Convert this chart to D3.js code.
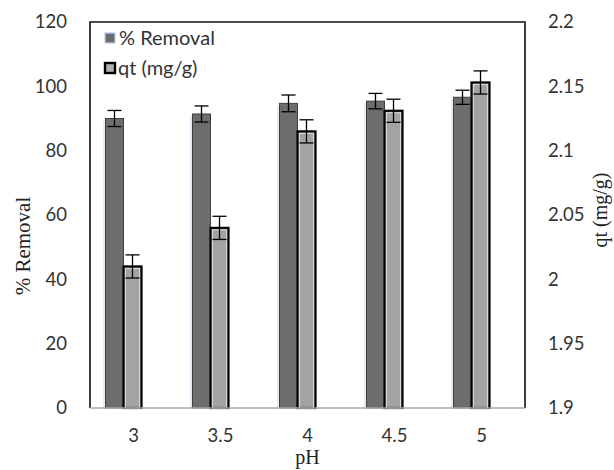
<!DOCTYPE html>
<html><head><meta charset="utf-8">
<script src="https://cdn.jsdelivr.net/npm/d3@7/dist/d3.min.js"></script>
<style>
html,body{margin:0;padding:0;background:#fff;}
svg{display:block;}
</style></head>
<body>
<script>
const categories = ["3", "3.5", "4", "4.5", "5"];
const removal = [90.0, 91.4, 94.7, 95.4, 96.6];
const removalErr = [2.5, 2.5, 2.6, 2.4, 2.2];
const qt = [2.010, 2.040, 2.115, 2.131, 2.153];
const qtErr = [0.009, 0.009, 0.009, 0.009, 0.009];
const leftTicks = [0, 20, 40, 60, 80, 100, 120];
const rightTicks = [1.9, 1.95, 2.0, 2.05, 2.1, 2.15, 2.2];
const seriesNames = ["% Removal", "qt (mg/g)"];

const W = 614, H = 470;
const m = {left: 90, right: 89, top: 22, bottom: 62};
const svg = d3.select("body").append("svg").attr("width", W).attr("height", H);

const x = d3.scaleBand().domain(categories).range([m.left, W - m.right]);
const xs = d3.scaleBand().domain(["removal", "qt"]).range([-28, 8]);
const yL = d3.scaleLinear().domain([0, 120]).range([H - m.bottom, m.top]);
const yR = d3.scaleLinear().domain([1.9, 2.2]).range([H - m.bottom, m.top]);
const cx = c => x(c) + x.bandwidth() / 2;

const sans = "Lato, 'Liberation Sans', sans-serif";
const serif = "'Liberation Serif', 'DejaVu Serif', serif";

// dark bars (% Removal)
const g = svg.append("g");
categories.forEach((c, i) => {
  const bx = cx(c) + xs("removal");
  g.append("line").attr("x1", bx - 1.5).attr("x2", bx - 1.5)
    .attr("y1", yL(removal[i]) + 2).attr("y2", yL(0))
    .attr("stroke", "#cfe0f6").attr("stroke-width", 1.2);
  g.append("rect").attr("x", bx).attr("y", yL(removal[i]))
    .attr("width", xs.bandwidth()).attr("height", yL(0) - yL(removal[i]))
    .attr("fill", "#6d6d6d").attr("stroke", "#3f3f3f").attr("stroke-width", 1);
});
// light bars (qt)
categories.forEach((c, i) => {
  const bx = cx(c) + xs("qt");
  g.append("rect").attr("x", bx).attr("y", yR(qt[i]))
    .attr("width", xs.bandwidth()).attr("height", yR(1.9) - yR(qt[i]))
    .attr("fill", "#a3a3a3").attr("stroke", "#000").attr("stroke-width", 2.2);
  g.append("rect").attr("x", bx + 2).attr("y", yR(qt[i]) + 2)
    .attr("width", xs.bandwidth() - 4).attr("height", yR(1.9) - yR(qt[i]) - 2)
    .attr("fill", "none").attr("stroke", "#e6e6e6").attr("stroke-width", 0.8);
});
// error bars
function errBar(xc, yTop, yBot) {
  const e = svg.append("g").attr("stroke", "#000").attr("stroke-width", 1.3);
  e.append("line").attr("x1", xc).attr("x2", xc).attr("y1", yTop).attr("y2", yBot);
  e.append("line").attr("x1", xc - 7).attr("x2", xc + 7).attr("y1", yTop).attr("y2", yTop);
  e.append("line").attr("x1", xc - 7).attr("x2", xc + 7).attr("y1", yBot).attr("y2", yBot);
}
categories.forEach((c, i) => {
  const xd = cx(c) + xs("removal") + xs.bandwidth() / 2;
  errBar(xd, yL(removal[i] + removalErr[i]), yL(removal[i] - removalErr[i]));
  const xq = cx(c) + xs("qt") + xs.bandwidth() / 2;
  errBar(xq, yR(qt[i] + qtErr[i]), yR(qt[i] - qtErr[i]));
});

// frame
const x0 = m.left, x1 = W - m.right, y0 = m.top, y1 = H - m.bottom;
svg.append("path").attr("d", `M${x0},${y1}V${y0}H${x1}V${y1}`)
  .attr("fill", "none").attr("stroke", "#111").attr("stroke-width", 1.6);
svg.append("line").attr("x1", x0).attr("x2", x1).attr("y1", y1).attr("y2", y1)
  .attr("stroke", "#a8a8a8").attr("stroke-width", 1.6);

// axes
const axL = svg.append("g").attr("transform", `translate(${x0 - 20},0)`)
  .call(d3.axisLeft(yL).tickValues(leftTicks).tickSize(0).tickFormat(d3.format("d")));
const axR = svg.append("g").attr("transform", `translate(${x1 + 20},0)`)
  .call(d3.axisRight(yR).tickValues(rightTicks).tickSize(0).tickFormat(d => String(+d.toFixed(2))));
const axB = svg.append("g").attr("transform", `translate(0,${y1 + 18})`)
  .call(d3.axisBottom(x).tickSize(0));
[axL, axR, axB].forEach(a => {
  a.select(".domain").remove();
  a.selectAll("text").attr("font-family", sans).attr("font-size", 18.5).attr("fill", "#333");
});
axL.selectAll("text").attr("dx", 0);
axR.selectAll("text").attr("dx", 0);

// titles
svg.append("text").attr("transform", `translate(30,246) rotate(-90)`)
  .attr("text-anchor", "middle").attr("font-family", serif).attr("font-size", 21)
  .attr("fill", "#222").text("% Removal");
svg.append("text").attr("transform", `translate(607,210) rotate(-90)`)
  .attr("text-anchor", "middle").attr("font-family", serif).attr("font-size", 20)
  .attr("fill", "#222").text("qt (mg/g)");
svg.append("text").attr("x", (x0 + x1) / 2).attr("y", 464)
  .attr("text-anchor", "middle").attr("font-family", serif).attr("font-size", 20)
  .attr("fill", "#222").text("pH");

// legend
const lg = svg.append("g");
lg.append("rect").attr("x", 105).attr("y", 33).attr("width", 10).attr("height", 10)
  .attr("fill", "#6d6d6d").attr("stroke", "#b9cfee").attr("stroke-width", 1.2);
lg.append("rect").attr("x", 105).attr("y", 63).attr("width", 10).attr("height", 10)
  .attr("fill", "#b0b0b0").attr("stroke", "#000").attr("stroke-width", 2.4);
lg.append("text").attr("x", 119).attr("y", 45).attr("font-family", sans).attr("font-size", 20)
  .attr("fill", "#333").text(seriesNames[0]);
lg.append("text").attr("x", 118).attr("y", 75).attr("font-family", sans).attr("font-size", 20)
  .attr("fill", "#333").text(seriesNames[1]);
</script>
</body></html>
